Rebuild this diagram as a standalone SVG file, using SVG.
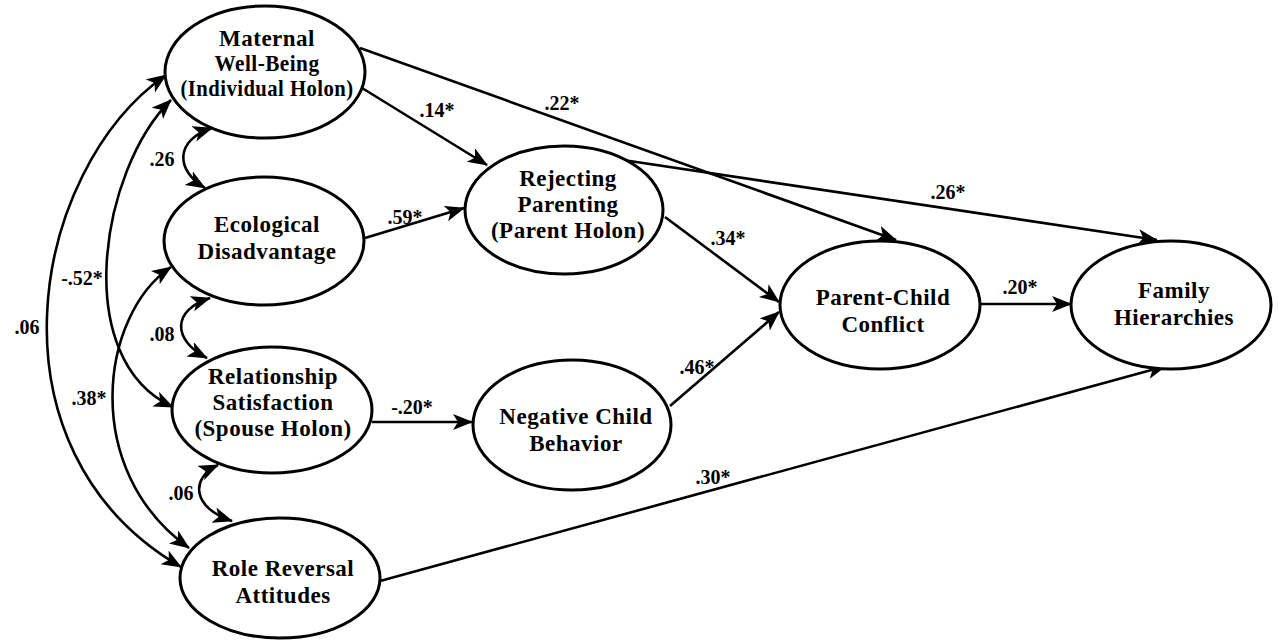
<svg xmlns="http://www.w3.org/2000/svg" width="1278" height="643" viewBox="0 0 1278 643">
<style>
.node ellipse{fill:#fff;stroke:#000;stroke-width:3}
.node text{font-family:"Liberation Serif","Times New Roman",serif;font-weight:bold;font-size:23px;letter-spacing:0.5px;text-anchor:middle;fill:#000}
.lab{font-family:"Liberation Serif","Times New Roman",serif;font-weight:bold;font-size:20px;text-anchor:middle;fill:#000}
.c path{fill:none;stroke:#000;stroke-width:2.6}
.one{marker-end:url(#ah)}
.two{marker-end:url(#ah);marker-start:url(#ah)}
</style>
<defs>
<marker id="ah" markerUnits="userSpaceOnUse" markerWidth="22" markerHeight="18" refX="19" refY="8" orient="auto-start-reverse" viewBox="0 0 22 18">
<path d="M0,0 L20,8 L0,16 L5,8 Z" fill="#000"/>
</marker>
</defs>
<rect width="1278" height="643" fill="#fff"/>
<g id="connectors" class="c">
<path class="one" d="M362,88 L487,165"/>
<path class="one" d="M360,48 L896,240"/>
<path class="one" d="M365,238 L464,208"/>
<path class="one" d="M623,160 L1157,240"/>
<path class="one" d="M665,217 L779,302"/>
<path class="one" d="M670,406 L779,312"/>
<path class="one" d="M372,422 L472,422"/>
<path class="one" d="M980,304 L1071,304"/>
<path class="one" d="M380,581 L1166,366"/>
<path class="two" d="M166,75 C30,170 -20,450 181,567"/>
<path class="two" d="M171,100 C100,170 70,360 173,407"/>
<path class="two" d="M171,267 C100,315 80,470 189,548"/>
<path class="two" d="M212,128 C175,140 175,170 205,188"/>
<path class="two" d="M210,298 C172,310 172,340 207,358"/>
<path class="two" d="M218,465 C190,478 192,508 232,521"/>
</g>
<g id="labels">
<text class="lab" x="437" y="117">.14*</text>
<text class="lab" x="562" y="110">.22*</text>
<text class="lab" x="405" y="224">.59*</text>
<text class="lab" x="162" y="166">.26</text>
<text class="lab" x="82" y="285">-.52*</text>
<text class="lab" x="27" y="334">.06</text>
<text class="lab" x="162" y="341">.08</text>
<text class="lab" x="89" y="405">.38*</text>
<text class="lab" x="181" y="500">.06</text>
<text class="lab" x="412" y="414">-.20*</text>
<text class="lab" x="728" y="245">.34*</text>
<text class="lab" x="697" y="374">.46*</text>
<text class="lab" x="713" y="484">.30*</text>
<text class="lab" x="948" y="199">.26*</text>
<text class="lab" x="1020" y="294">.20*</text>
</g>
<g id="maternal" class="node">
<ellipse cx="265" cy="72" rx="100" ry="66"/>
<text x="267" y="46">Maternal</text>
<text x="267" y="71" textLength="105" lengthAdjust="spacingAndGlyphs">Well-Being</text>
<text x="267" y="96" textLength="173" lengthAdjust="spacingAndGlyphs">(Individual Holon)</text>
</g>
<g id="ecological" class="node">
<ellipse cx="264" cy="241" rx="100" ry="64"/>
<text x="267" y="232">Ecological</text>
<text x="267" y="259">Disadvantage</text>
</g>
<g id="relationship" class="node">
<ellipse cx="272" cy="410" rx="100" ry="63"/>
<text x="273" y="384">Relationship</text>
<text x="273" y="410">Satisfaction</text>
<text x="273" y="436">(Spouse Holon)</text>
</g>
<g id="rolereversal" class="node">
<ellipse cx="280" cy="578" rx="100" ry="60"/>
<text x="283" y="576">Role Reversal</text>
<text x="283" y="603">Attitudes</text>
</g>
<g id="rejecting" class="node">
<ellipse cx="564" cy="210" rx="99" ry="64"/>
<text x="568" y="186">Rejecting</text>
<text x="568" y="212">Parenting</text>
<text x="568" y="238">(Parent Holon)</text>
</g>
<g id="negative" class="node">
<ellipse cx="572" cy="425" rx="99" ry="65"/>
<text x="576" y="424">Negative Child</text>
<text x="576" y="451">Behavior</text>
</g>
<g id="conflict" class="node">
<ellipse cx="880" cy="305" rx="100" ry="64"/>
<text x="883" y="305">Parent-Child</text>
<text x="883" y="332">Conflict</text>
</g>
<g id="family" class="node">
<ellipse cx="1171" cy="305" rx="100" ry="64"/>
<text x="1174" y="298">Family</text>
<text x="1174" y="325">Hierarchies</text>
</g>
</svg>
